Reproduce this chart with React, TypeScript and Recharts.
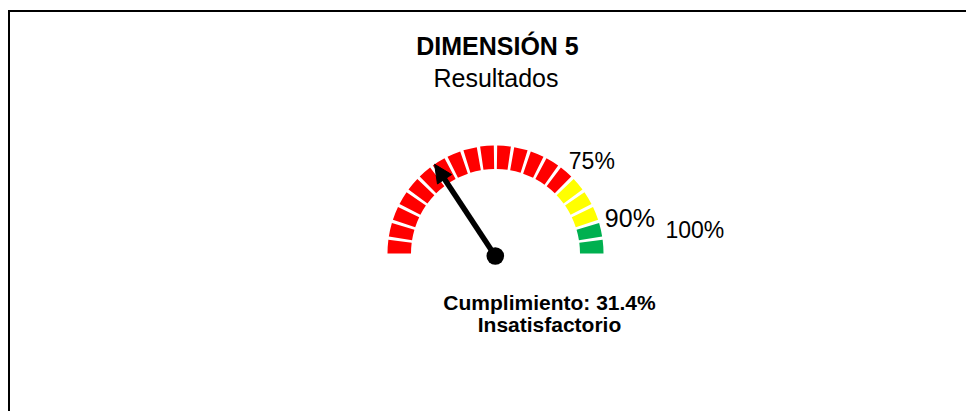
import { PieChart, Pie, Cell } from 'recharts';

// gauge data
const VALUE = 31.4;
const BAND_LIMITS = [75, 90, 100];
const BAND_COLORS = ['#FF0000', '#FFFF00', '#00B050'];
const SEGMENT_STEP = 5;
const THRESHOLD_LABELS = ['75%', '90%', '100%'];

const TITLE = 'DIMENSIÓN 5';
const SUBTITLE = 'Resultados';
const STATUS = 'Insatisfactorio';

const W = 966;
const H = 411;
const CX = 495.5;
const CY = 253.5;
const PIVOT = { x: 495.3, y: 256 };
const FONT = '"Liberation Sans", Arial, sans-serif';

const segments: { from: number; size: number; color: string }[] = [];
for (let v = 0; v < 100; v += SEGMENT_STEP) {
  const band = BAND_LIMITS.findIndex((lim) => v < lim);
  segments.push({ from: v, size: SEGMENT_STEP, color: BAND_COLORS[band] });
}

const toAngle = (pct: number) => 180 - (pct / 100) * 180;
const polar = (cx: number, cy: number, r: number, deg: number) => ({
  x: cx + r * Math.cos((deg * Math.PI) / 180),
  y: cy - r * Math.sin((deg * Math.PI) / 180),
});

// label nudges relative to the point just outside the ring
const LABEL_NUDGE = [
  { dx: -8, dy: -3, size: 23 },
  { dx: 0, dy: 9, size: 25 },
  { dx: 55, dy: -16, size: 23 },
];

// drawn in its own svg on top: recharts 3 puts the pie sectors above Customized
function Overlay() {
  const a = toAngle(VALUE);
  const len = 110;
  const headLen = 18;
  const hw = 8.5;
  const tip = polar(PIVOT.x, PIVOT.y, len, a);
  const base = polar(PIVOT.x, PIVOT.y, len - headLen, a);
  const rad = (a * Math.PI) / 180;
  const nx = Math.sin(rad);
  const ny = Math.cos(rad);
  const l = { x: base.x + nx * hw, y: base.y + ny * hw };
  const r = { x: base.x - nx * hw, y: base.y - ny * hw };
  const shaftEnd = polar(PIVOT.x, PIVOT.y, len - headLen + 2, a);
  const head = `M${tip.x.toFixed(2)},${tip.y.toFixed(2)}L${l.x.toFixed(2)},${l.y.toFixed(2)}L${r.x.toFixed(2)},${r.y.toFixed(2)}Z`;

  return (
    <svg width={W} height={H} style={{ position: 'absolute', left: 0, top: 0, pointerEvents: 'none' }}>
      <g fontFamily={FONT}>
        <text x={497.5} y={55} textAnchor="middle" fontSize={25} fontWeight="bold" fill="#000">{TITLE}</text>
        <text x={496} y={87} textAnchor="middle" fontSize={25} fill="#000">{SUBTITLE}</text>

        {BAND_LIMITS.map((lim, i) => {
          const p = polar(CX, CY, 115, toAngle(lim));
          const n = LABEL_NUDGE[i];
          return (
            <text key={lim} x={p.x + n.dx} y={p.y + n.dy} fontSize={n.size} fill="#000">{THRESHOLD_LABELS[i]}</text>
          );
        })}

        <line x1={PIVOT.x} y1={PIVOT.y} x2={shaftEnd.x} y2={shaftEnd.y} stroke="#000" strokeWidth={5.5} />
        <path d={head} fill="#000" stroke="#000" strokeWidth={1} />
        <circle cx={PIVOT.x} cy={PIVOT.y} r={8.8} fill="#000" />

        <text x={549.5} y={309.5} textAnchor="middle" fontSize={21} fontWeight="bold" fill="#000">
          {`Cumplimiento: ${VALUE}%`}
        </text>
        <text x={549.5} y={332} textAnchor="middle" fontSize={21} fontWeight="bold" fill="#000">{STATUS}</text>
      </g>
    </svg>
  );
}

export default function App() {
  return (
    <div style={{ position: 'relative', width: W, height: H, overflow: 'hidden', background: '#fff' }}>
      <style>{'body{margin:0;overflow:hidden}'}</style>
      <div
        style={{
          position: 'absolute', left: 8, top: 10, width: 1000, height: 500,
          border: '2px solid #000', boxSizing: 'border-box',
        }}
      />
      <div style={{ position: 'absolute', left: 0, top: 0 }}>
        <PieChart width={W} height={H} margin={{ top: 0, right: 0, bottom: 0, left: 0 }}>
          <Pie
            data={segments}
            dataKey="size"
            cx={CX}
            cy={CY}
            startAngle={180}
            endAngle={0}
            innerRadius={84.5}
            outerRadius={108}
            paddingAngle={1.8}
            stroke="none"
            isAnimationActive={false}
          >
            {segments.map((s) => <Cell key={s.from} fill={s.color} />)}
          </Pie>
        </PieChart>
      </div>
      <Overlay />
    </div>
  );
}
